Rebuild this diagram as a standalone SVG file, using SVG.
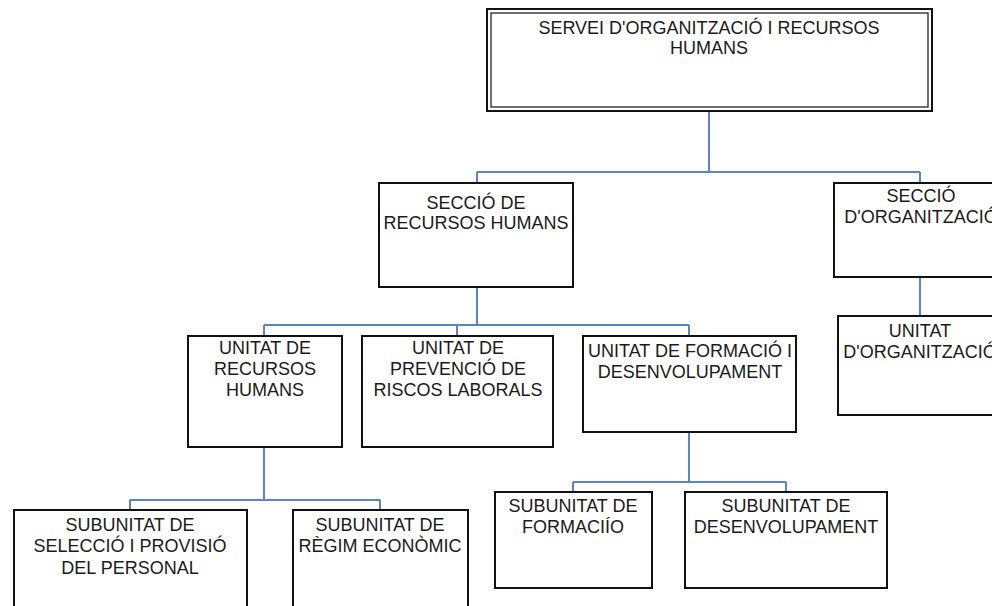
<svg xmlns="http://www.w3.org/2000/svg" width="992" height="606" viewBox="0 0 992 606">
<style>
.box{fill:#fff;stroke:#111;stroke-width:2}
.inner{fill:none;stroke:#111;stroke-width:1.2}
.c{fill:none;stroke:#5b84c8;stroke-width:2}
text{font-family:"Liberation Sans",Arial,sans-serif;font-size:18px;fill:#1a1a1a;text-anchor:middle}
</style>
<rect width="992" height="606" fill="#fff"/>
<g id="connectors">
<path class="c" d="M709 111V172M477 172H920M477 172V183M920 172V183"/>
<path class="c" d="M920 277V316"/>
<path class="c" d="M477 287V325M264 325H689M264 325V336M457 325V336M689 325V336"/>
<path class="c" d="M264 447V500M130 500H380M130 500V510M380 500V510"/>
<path class="c" d="M689 432V482M573 482H786M573 482V492M786 482V492"/>
</g>
<g id="servei">
<rect class="box" x="487" y="9" width="445" height="102"/>
<rect class="inner" x="491" y="13" width="437" height="94"/>
<text x="709" y="34">SERVEI D'ORGANITZACIÓ I RECURSOS</text>
<text x="709" y="54">HUMANS</text>
</g>
<g id="seccio-rh">
<rect class="box" x="379" y="183" width="194" height="104"/>
<text x="476" y="209">SECCIÓ DE</text>
<text x="476" y="229">RECURSOS HUMANS</text>
</g>
<g id="seccio-org">
<rect class="box" x="834" y="183" width="172" height="94"/>
<text x="921" y="202">SECCIÓ</text>
<text x="921" y="223">D'ORGANITZACIÓ</text>
</g>
<g id="unitat-org">
<rect class="box" x="838" y="316" width="166" height="99"/>
<text x="920" y="337">UNITAT</text>
<text x="920" y="358">D'ORGANITZACIÓ</text>
</g>
<g id="unitat-rh">
<rect class="box" x="188" y="336" width="154" height="111"/>
<text x="265" y="354">UNITAT DE</text>
<text x="265" y="375">RECURSOS</text>
<text x="265" y="396">HUMANS</text>
</g>
<g id="unitat-prev">
<rect class="box" x="362" y="336" width="191" height="111"/>
<text x="458" y="354">UNITAT DE</text>
<text x="458" y="375">PREVENCIÓ DE</text>
<text x="458" y="396">RISCOS LABORALS</text>
</g>
<g id="unitat-form">
<rect class="box" x="583" y="336" width="213" height="96"/>
<text x="690" y="357">UNITAT DE FORMACIÓ I</text>
<text x="690" y="378">DESENVOLUPAMENT</text>
</g>
<g id="sub-seleccio">
<rect class="box" x="14" y="510" width="233" height="110"/>
<text x="130" y="531">SUBUNITAT DE</text>
<text x="130" y="552">SELECCIÓ I PROVISIÓ</text>
<text x="130" y="574">DEL PERSONAL</text>
</g>
<g id="sub-regim">
<rect class="box" x="293" y="510" width="175" height="110"/>
<text x="380" y="531">SUBUNITAT DE</text>
<text x="380" y="552">RÈGIM ECONÒMIC</text>
</g>
<g id="sub-formacio">
<rect class="box" x="495" y="492" width="157" height="96"/>
<text x="573" y="512">SUBUNITAT DE</text>
<text x="573" y="533">FORMACIÍO</text>
</g>
<g id="sub-desenv">
<rect class="box" x="685" y="492" width="202" height="96"/>
<text x="786" y="512">SUBUNITAT DE</text>
<text x="786" y="533">DESENVOLUPAMENT</text>
</g>
</svg>
